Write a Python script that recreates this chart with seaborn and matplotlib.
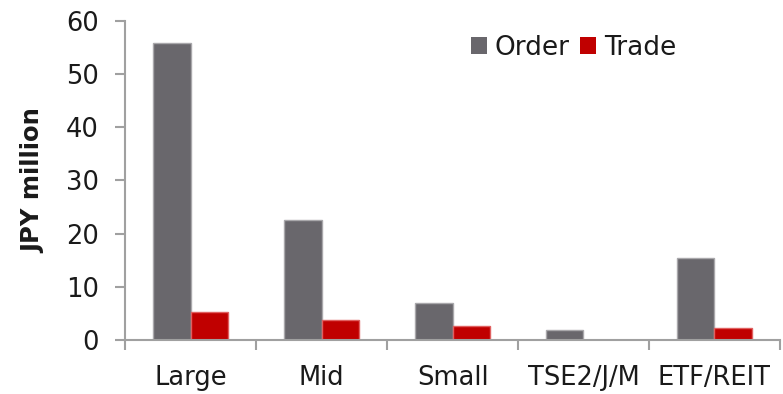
import matplotlib
matplotlib.use("Agg")
import matplotlib.pyplot as plt
import seaborn as sns
import pandas as pd
import numpy as np
from matplotlib.ticker import FixedLocator, NullFormatter

categories = ["Large", "Mid", "Small", "TSE2/J/M", "ETF/REIT"]
order_vals = [55.9, 22.6, 6.9, 1.8, 15.4]
trade_vals = [5.2, 3.7, 2.6, 0.0, 2.2]
series = ["Order", "Trade"]
colors = ["#69676c", "#c00000"]
edge_colors = ["#a9a8ab", "#e06060"]

df = pd.DataFrame({
    "cat": categories * 2,
    "series": ["Order"] * len(categories) + ["Trade"] * len(categories),
    "value": order_vals + trade_vals,
})

sns.set_style("white")
plt.rcParams["font.family"] = ["DejaVu Sans"]

fig = plt.figure(figsize=(7.83, 3.94), dpi=100)
ax = fig.add_axes([0.16, 0.137, 0.836, 0.8105])

sns.barplot(data=df, x="cat", y="value", hue="series", order=categories,
            hue_order=series, palette=colors, width=0.57, ax=ax,
            saturation=1, errorbar=None, linewidth=1)
for cont, ec in zip(ax.containers, edge_colors):
    for p in cont:
        p.set_edgecolor(ec)

ax.set_ylim(0, 60)
ax.set_xlim(-0.5, len(categories) - 0.5)
ax.set_yticks(np.arange(0, 61, 10))
ax.set_xlabel("")
ax.set_ylabel("JPY million", fontsize=17.5, fontweight="bold", color="#1a1a1a")
ax.yaxis.set_label_coords(-0.1405, 0.5)
ax.yaxis.label.set_verticalalignment("center")

for s in ["top", "right"]:
    ax.spines[s].set_visible(False)
for s in ["left", "bottom"]:
    ax.spines[s].set_color("#a0a0a0")
    ax.spines[s].set_linewidth(1.5)

ax.tick_params(axis="y", which="major", direction="out", length=7, width=1.5,
               color="#a0a0a0", labelsize=18.5, labelcolor="#1a1a1a", pad=12, left=True)
ax.tick_params(axis="x", which="major", length=0, labelsize=18.5, labelcolor="#1a1a1a", pad=18)
ax.xaxis.set_minor_locator(FixedLocator(np.arange(-0.5, len(categories), 1.0)))
ax.xaxis.set_minor_formatter(NullFormatter())
ax.tick_params(axis="x", which="minor", direction="out", length=7, width=1.5,
               color="#a0a0a0", bottom=True)

leg = ax.legend(loc="upper left", bbox_to_anchor=(0.492, 1.03), ncol=2, frameon=False,
                fontsize=19, handlelength=0.6, handleheight=0.6, handletextpad=0.3,
                columnspacing=0.4, labelcolor="#1a1a1a")
for h in leg.legend_handles:
    h.set_edgecolor("none")

fig.savefig("out.png", dpi=100)
